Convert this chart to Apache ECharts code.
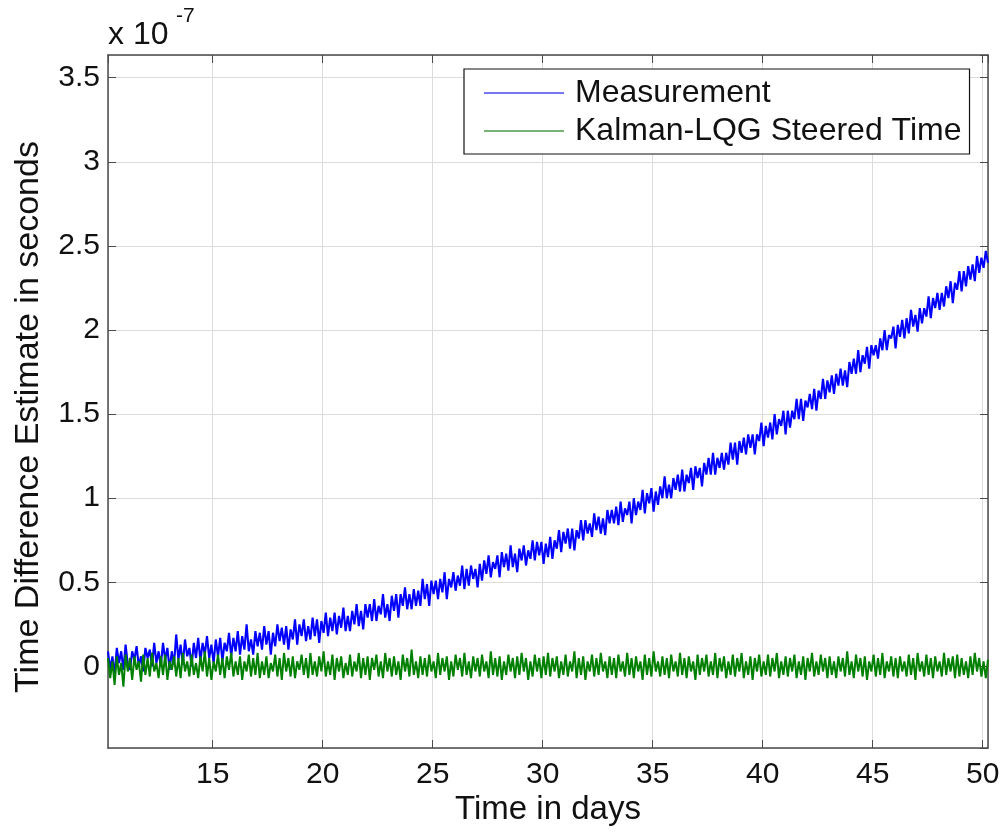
<!DOCTYPE html>
<html>
<head>
<meta charset="utf-8">
<script src="https://cdn.jsdelivr.net/npm/echarts@6/dist/echarts.min.js"></script>
<style>html,body{margin:0;padding:0;background:#fff}#c{width:1005px;height:834px}</style>
</head>
<body>
<div id="c"></div>
<script>
// Time axis: samples every 0.1 days from 10.24 to 50.24
const dayStart = 10.24;
const dayStep = 0.1;
// Values in units of 1e-7 seconds (axis multiplier "x 10^-7")
const measurement = [
0.09,-0.02,0.06,-0.05,0.11,0.02,0.09,-0.02,0.13,0.01,
-0.02,0.09,0.04,0.12,0.00,0.06,-0.03,0.11,0.05,0.10,
0.00,0.14,0.02,0.09,0.00,0.14,0.04,0.11,-0.02,0.09,
0.01,0.19,0.04,0.13,0.01,0.16,0.06,0.11,0.00,0.14,
0.05,0.17,0.03,0.14,0.07,0.18,0.05,0.13,0.02,0.16,
0.06,0.17,0.03,0.14,0.09,0.20,0.06,0.17,0.09,0.21,
0.07,0.18,0.10,0.25,0.09,0.16,0.07,0.21,0.12,0.20,
0.10,0.24,0.13,0.21,0.07,0.20,0.12,0.25,0.15,0.23,
0.13,0.24,0.10,0.22,0.16,0.28,0.13,0.25,0.18,0.28,
0.15,0.24,0.16,0.29,0.18,0.28,0.14,0.27,0.20,0.32,
0.18,0.29,0.21,0.32,0.19,0.30,0.23,0.35,0.21,0.30,
0.21,0.33,0.25,0.37,0.24,0.33,0.22,0.37,0.29,0.37,
0.27,0.40,0.27,0.36,0.31,0.43,0.29,0.37,0.27,0.42,
0.33,0.43,0.29,0.43,0.36,0.47,0.34,0.43,0.34,0.46,
0.36,0.45,0.36,0.52,0.40,0.49,0.36,0.51,0.43,0.51,
0.40,0.52,0.44,0.56,0.40,0.52,0.47,0.56,0.45,0.54,
0.48,0.60,0.46,0.58,0.48,0.60,0.52,0.58,0.47,0.61,
0.51,0.63,0.55,0.66,0.53,0.62,0.58,0.66,0.53,0.68,
0.59,0.67,0.57,0.72,0.59,0.67,0.56,0.70,0.63,0.72,
0.60,0.69,0.64,0.75,0.63,0.74,0.66,0.74,0.61,0.73,
0.65,0.77,0.64,0.75,0.70,0.81,0.68,0.80,0.73,0.82,
0.70,0.82,0.69,0.81,0.76,0.87,0.75,0.87,0.79,0.85,
0.77,0.91,0.81,0.89,0.79,0.88,0.78,0.93,0.85,0.93,
0.85,0.95,0.84,0.98,0.86,0.94,0.90,0.98,0.85,1.00,
0.90,0.98,0.93,1.05,0.91,1.03,0.97,1.06,0.92,1.04,
0.96,1.07,1.00,1.13,1.00,1.08,1.00,1.12,1.05,1.14,
1.04,1.17,1.04,1.14,1.09,1.18,1.05,1.19,1.12,1.18,
1.07,1.21,1.14,1.24,1.14,1.27,1.14,1.24,1.18,1.27,
1.17,1.27,1.20,1.33,1.23,1.33,1.20,1.34,1.27,1.36,
1.26,1.38,1.30,1.38,1.26,1.38,1.34,1.45,1.31,1.43,
1.36,1.45,1.35,1.50,1.38,1.47,1.43,1.52,1.38,1.52,
1.42,1.52,1.47,1.59,1.47,1.59,1.46,1.58,1.54,1.62,
1.53,1.65,1.52,1.64,1.59,1.71,1.59,1.70,1.63,1.73,
1.62,1.74,1.67,1.77,1.67,1.76,1.66,1.81,1.74,1.83,
1.74,1.88,1.75,1.85,1.80,1.90,1.77,1.91,1.85,1.91,
1.83,1.95,1.88,2.00,1.88,1.97,1.95,2.02,1.89,2.03,
1.96,2.06,1.95,2.07,1.98,2.12,2.02,2.09,1.99,2.13,
2.04,2.13,2.08,2.20,2.07,2.19,2.13,2.22,2.12,2.22,
2.14,2.26,2.19,2.29,2.16,2.28,2.24,2.35,2.23,2.35,
2.26,2.38,2.30,2.39,2.29,2.44,2.34,2.43,2.37,2.47,
2.40
];
const steered = [
0.05,-0.07,0.03,-0.11,0.06,-0.05,0.02,-0.12,0.07,-0.03,
0.05,-0.08,0.06,-0.02,0.03,-0.09,0.07,-0.05,0.05,-0.06,
0.08,-0.03,0.02,-0.07,0.06,-0.05,0.07,-0.08,0.03,-0.02,
0.06,-0.06,0.05,-0.07,0.08,-0.03,0.03,-0.06,0.07,-0.05,
0.02,-0.07,0.06,-0.03,0.09,-0.06,0.05,-0.08,0.03,-0.03,
0.07,-0.05,0.05,-0.07,0.06,-0.02,0.08,-0.06,0.03,-0.05,
0.06,-0.08,0.03,-0.03,0.07,-0.06,0.05,-0.05,0.08,-0.07,
0.03,-0.05,0.06,-0.07,0.02,-0.03,0.07,-0.06,0.05,-0.08,
0.08,-0.03,0.05,-0.06,0.06,-0.07,0.03,-0.02,0.07,-0.05,
0.05,-0.07,0.08,-0.05,0.03,-0.06,0.06,-0.03,0.09,-0.06,
0.03,-0.05,0.07,-0.08,0.05,-0.03,0.06,-0.07,0.02,-0.05,
0.07,-0.06,0.03,-0.03,0.08,-0.07,0.05,-0.05,0.06,-0.08,
0.05,-0.02,0.07,-0.06,0.03,-0.07,0.08,-0.03,0.05,-0.06,
0.06,-0.05,0.03,-0.08,0.07,-0.03,0.05,-0.06,0.10,-0.05,
0.03,-0.07,0.06,-0.05,0.05,-0.06,0.07,-0.03,0.03,-0.07,
0.08,-0.05,0.05,-0.03,0.06,-0.08,0.03,-0.06,0.07,-0.02,
0.05,-0.06,0.08,-0.05,0.03,-0.07,0.06,-0.03,0.05,-0.06,
0.07,-0.03,0.03,-0.07,0.09,-0.05,0.05,-0.06,0.06,-0.08,
0.03,-0.05,0.07,-0.03,0.05,-0.07,0.06,-0.05,0.08,-0.03,
0.05,-0.08,0.03,-0.06,0.07,-0.03,0.05,-0.07,0.06,-0.05,
0.08,-0.06,0.05,-0.03,0.06,-0.07,0.03,-0.05,0.07,-0.06,
0.03,-0.03,0.09,-0.07,0.05,-0.05,0.06,-0.08,0.03,-0.03,
0.07,-0.06,0.05,-0.05,0.08,-0.03,0.03,-0.07,0.06,-0.05,
0.05,-0.07,0.07,-0.03,0.03,-0.06,0.08,-0.05,0.05,-0.07,
0.06,-0.03,0.03,-0.08,0.07,-0.05,0.05,-0.06,0.09,-0.03,
0.03,-0.06,0.06,-0.05,0.05,-0.07,0.07,-0.03,0.03,-0.06,
0.08,-0.05,0.05,-0.07,0.06,-0.03,0.03,-0.08,0.07,-0.05,
0.05,-0.03,0.07,-0.06,0.03,-0.05,0.08,-0.07,0.05,-0.03,
0.06,-0.07,0.03,-0.05,0.07,-0.06,0.05,-0.03,0.08,-0.07,
0.03,-0.05,0.06,-0.08,0.05,-0.03,0.07,-0.06,0.03,-0.05,
0.07,-0.06,0.05,-0.03,0.08,-0.07,0.03,-0.05,0.06,-0.06,
0.05,-0.03,0.07,-0.07,0.03,-0.05,0.06,-0.08,0.05,-0.03,
0.08,-0.06,0.03,-0.05,0.07,-0.03,0.05,-0.07,0.06,-0.05,
0.03,-0.07,0.06,-0.03,0.05,-0.06,0.09,-0.05,0.03,-0.07,
0.07,-0.03,0.05,-0.06,0.06,-0.08,0.03,-0.03,0.07,-0.06,
0.05,-0.05,0.08,-0.07,0.03,-0.03,0.06,-0.06,0.05,-0.07,
0.06,-0.03,0.03,-0.06,0.07,-0.05,0.05,-0.08,0.08,-0.03,
0.03,-0.06,0.07,-0.05,0.05,-0.07,0.06,-0.03,0.03,-0.06,
0.08,-0.05,0.05,-0.03,0.06,-0.07,0.07,-0.06,0.05,-0.05,
0.03,-0.07,0.06,-0.05,0.08,-0.03,0.05,-0.06,0.03,-0.07,
0.04
];
const seriesNames = ['Measurement', 'Kalman-LQG Steered Time'];
const xLabel = 'Time in days';
const yLabel = 'Time Difference Estimate in seconds';
const xRange = [10.24, 50.24];
const yRange = [-0.485, 3.635];

const days = measurement.map((_, i) => +(dayStart + i * dayStep).toFixed(2));
const mData = days.map((d, i) => [d, measurement[i]]);
const sData = days.map((d, i) => [d, steered[i]]);

const FONT = 'Liberation Sans, Arial, Helvetica, sans-serif';
const axisCol = '#4a4a4a';
const baseX = {
  type: 'value', min: xRange[0], max: xRange[1], splitNumber: 8,
  axisLine: {show: true, onZero: false, lineStyle: {color: axisCol, width: 1.5}},
  axisTick: {show: true, inside: true, length: 8, lineStyle: {color: axisCol, width: 1}},
};
const baseY = {
  type: 'value', min: yRange[0], max: yRange[1], splitNumber: 8,
  axisLine: {show: true, onZero: false, lineStyle: {color: axisCol, width: 1.5}},
  axisTick: {show: true, inside: true, length: 8, lineStyle: {color: axisCol, width: 1}},
};

const chart = echarts.init(document.getElementById('c'), null, {renderer: 'canvas'});
chart.setOption({
  animation: false,
  backgroundColor: '#fff',
  grid: {left: 108, right: 17, top: 55, bottom: 86, containLabel: false},
  xAxis: [
    Object.assign({}, baseX, {
      position: 'bottom',
      axisLabel: {show: true, fontSize: 30, color: '#111', fontFamily: FONT, margin: 12, showMinLabel: false, showMaxLabel: false},
      splitLine: {show: true, lineStyle: {color: '#dcdcdc', width: 1}}
    }),
    Object.assign({}, baseX, {
      position: 'top',
      axisLabel: {show: false}, splitLine: {show: false}
    })
  ],
  yAxis: [
    Object.assign({}, baseY, {
      position: 'left',
      axisLabel: {show: true, fontSize: 30, color: '#111', fontFamily: FONT, margin: 8, showMinLabel: false, showMaxLabel: false},
      splitLine: {show: true, lineStyle: {color: '#dcdcdc', width: 1}}
    }),
    Object.assign({}, baseY, {
      position: 'right',
      axisLabel: {show: false}, splitLine: {show: false}
    })
  ],
  legend: {
    orient: 'vertical', left: 464, top: 69,
    data: seriesNames,
    icon: 'rect', itemWidth: 80, itemHeight: 1.5, itemGap: 0,
    padding: [5, 8, 4, 20],
    borderColor: '#111', borderWidth: 1.2, backgroundColor: '#fff',
    textStyle: {fontSize: 32, fontFamily: FONT, color: '#111', lineHeight: 38, padding: [0, 0, 0, 6]}
  },
  graphic: [
    {type: 'text', x: 108, y: 35, style: {text: 'x 10', font: '32px ' + FONT, fill: '#111', textAlign: 'left', textVerticalAlign: 'middle'}},
    {type: 'text', x: 176, y: 16, style: {text: '-7', font: '21px ' + FONT, fill: '#111', textAlign: 'left', textVerticalAlign: 'middle'}},
    {type: 'text', x: 548, y: 810, style: {text: xLabel, font: '33px ' + FONT, fill: '#111', textAlign: 'center', textVerticalAlign: 'middle'}},
    {type: 'text', x: 29, y: 417, rotation: Math.PI / 2, style: {text: yLabel, font: '34px ' + FONT, fill: '#111', textAlign: 'center', textVerticalAlign: 'middle'}}
  ],
  series: [
    {name: seriesNames[0], type: 'line', data: mData, xAxisIndex: 0, yAxisIndex: 0, symbol: 'none',
     lineStyle: {color: '#0000ff', width: 2.1}, itemStyle: {color: '#4a4af0'}},
    {name: seriesNames[1], type: 'line', data: sData, xAxisIndex: 0, yAxisIndex: 0, symbol: 'none',
     lineStyle: {color: '#008000', width: 2.0}, itemStyle: {color: '#4a9a4a'}}
  ]
});
</script>
</body>
</html>
